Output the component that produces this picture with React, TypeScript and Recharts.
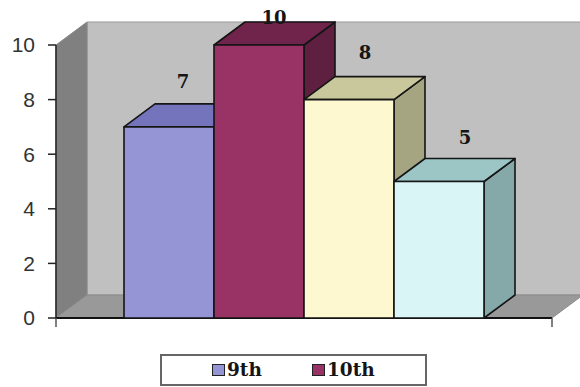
import React from 'react';
import { BarChart, Bar, XAxis, YAxis, Legend, LabelList, ReferenceArea } from 'recharts';

const seriesNames = ['9th', '10th', '11th', '12th'];
const seriesValues = [7, 10, 8, 5];
const legendedSeries = ['9th', '10th'];
const yTicks = [0, 2, 4, 6, 8, 10];

const frontColors = ['#9595d6', '#993366', '#fdf8cf', '#d9f5f5'];
const topColors = ['#7474bc', '#70244c', '#c9c89c', '#9cc6c6'];
const sideColors = ['#6464a0', '#5f1f40', '#a5a582', '#85a9a9'];

// Value label placement relative to each box's front face
const labelShiftX = [14, 15, 16, 26];
const labelShiftY = [-45, -46, -47, -44];

const row: Record<string, string | number> = { category: 'Grade' };
seriesNames.forEach((name, i) => {
  row[name] = seriesValues[i];
});
const rows = [row];

// Oblique offset used for every extruded face
const DEPTH_X = 31;
const DEPTH_Y = 23;

const points = (...pairs: number[][]) => pairs.map((p) => p.join(',')).join(' ');

function Walls({ x, y, width, height }: any) {
  const bottom = y + height;
  const right = x + width;
  return (
    <g>
      <polygon
        points={points([x + DEPTH_X, y - DEPTH_Y], [right + DEPTH_X, y - DEPTH_Y], [right + DEPTH_X, bottom - DEPTH_Y], [x + DEPTH_X, bottom - DEPTH_Y])}
        fill="#c0c0c0"
        stroke="#999"
      />
      <polygon
        points={points([x, y], [x + DEPTH_X, y - DEPTH_Y], [x + DEPTH_X, bottom - DEPTH_Y], [x, bottom])}
        fill="#808080"
        stroke="#888"
      />
      <polygon
        points={points([x, bottom], [x + DEPTH_X, bottom - DEPTH_Y], [right + DEPTH_X, bottom - DEPTH_Y], [right, bottom])}
        fill="#999"
        stroke="#8c8c8c"
      />
      <line x1={x} y1={y} x2={x} y2={bottom} stroke="#222" strokeWidth={1.5} />
      <line x1={x} y1={bottom} x2={right} y2={bottom} stroke="#111" strokeWidth={2} />
      <line x1={x} y1={bottom} x2={x} y2={bottom + 9} stroke="#555" strokeWidth={1.5} />
      <line x1={right} y1={bottom} x2={right} y2={bottom + 9} stroke="#555" strokeWidth={1.5} />
    </g>
  );
}

const makeBox = (index: number) =>
  function Box({ x, y, width, height }: any) {
    const stroke = { stroke: '#151515', strokeWidth: 1.6, strokeLinejoin: 'round' as const };
    return (
      <g>
        <polygon
          points={points([x + width, y], [x + width + DEPTH_X, y - DEPTH_Y], [x + width + DEPTH_X, y + height - DEPTH_Y], [x + width, y + height])}
          fill={sideColors[index]}
          {...stroke}
        />
        <polygon
          points={points([x, y], [x + DEPTH_X, y - DEPTH_Y], [x + width + DEPTH_X, y - DEPTH_Y], [x + width, y])}
          fill={topColors[index]}
          {...stroke}
        />
        <rect x={x} y={y} width={width} height={height} fill={frontColors[index]} {...stroke} />
      </g>
    );
  };

const makeValueLabel = (index: number) =>
  function ValueLabel({ x, y, width, value }: any) {
    return (
      <text
        x={x + width / 2 + labelShiftX[index]}
        y={Math.max(y + labelShiftY[index], 17)}
        textAnchor="middle"
        dominantBaseline="central"
        fontFamily="'DejaVu Serif', serif"
        fontWeight={700}
        fontSize={18}
        fill="#151515"
      >
        {value}
      </text>
    );
  };

function LegendBox({ payload }: any) {
  const items = legendedSeries
    .map((name) => (payload || []).find((item: any) => item.value === name))
    .filter(Boolean);
  return (
    <div
      style={{
        boxSizing: 'border-box',
        width: 267,
        height: 32,
        border: '2px solid #666',
        background: '#fff',
        position: 'relative',
        fontFamily: "'DejaVu Serif', serif",
        fontWeight: 700,
        fontSize: 18.5,
        color: '#151515',
      }}
    >
      {items.map((item: any, i: number) => (
        <div
          key={item.value}
          style={{ position: 'absolute', left: i === 0 ? 50 : 150, top: 3, display: 'flex', alignItems: 'center', lineHeight: '22px' }}
        >
          <span
            style={{
              display: 'inline-block',
              boxSizing: 'border-box',
              width: 13,
              height: 12,
              marginRight: 2,
              background: item.color,
              border: '1.5px solid #222',
            }}
          />
          {item.value}
        </div>
      ))}
    </div>
  );
}

export default function App() {
  return (
    <div style={{ width: 580, height: 387, overflow: 'hidden' }}>
      <style>{'body { margin: 0; }'}</style>
      <BarChart
        width={580}
        height={387}
        data={rows}
        margin={{ top: 45, right: 28, bottom: 37, left: 0 }}
        barGap={0}
        barSize={90}
      >
        <ReferenceArea y1={0} y2={10} ifOverflow="visible" shape={<Walls />} />
        <XAxis dataKey="category" tick={false} tickLine={false} axisLine={false} height={0} />
        <YAxis
          width={56}
          domain={[0, 10]}
          ticks={yTicks}
          axisLine={false}
          tickLine={{ stroke: '#222', strokeWidth: 1.5 }}
          tickSize={8}
          tickMargin={13}
          tick={{ fill: '#333', fontSize: 21, fontFamily: "'Liberation Sans', Arial, sans-serif" }}
        />
        {seriesNames.map((name, i) => (
          <Bar
            key={name}
            dataKey={name}
            name={name}
            fill={frontColors[i]}
            isAnimationActive={false}
            legendType={legendedSeries.includes(name) ? 'square' : 'none'}
            shape={makeBox(i)}
          >
            <LabelList dataKey={name} content={React.createElement(makeValueLabel(i))} />
          </Bar>
        ))}
        <Legend
          content={<LegendBox />}
          layout="horizontal"
          verticalAlign="bottom"
          align="left"
          itemSorter={null}
          wrapperStyle={{ left: 160, top: 354, bottom: 'auto', width: 267, height: 32 }}
        />
      </BarChart>
    </div>
  );
}
